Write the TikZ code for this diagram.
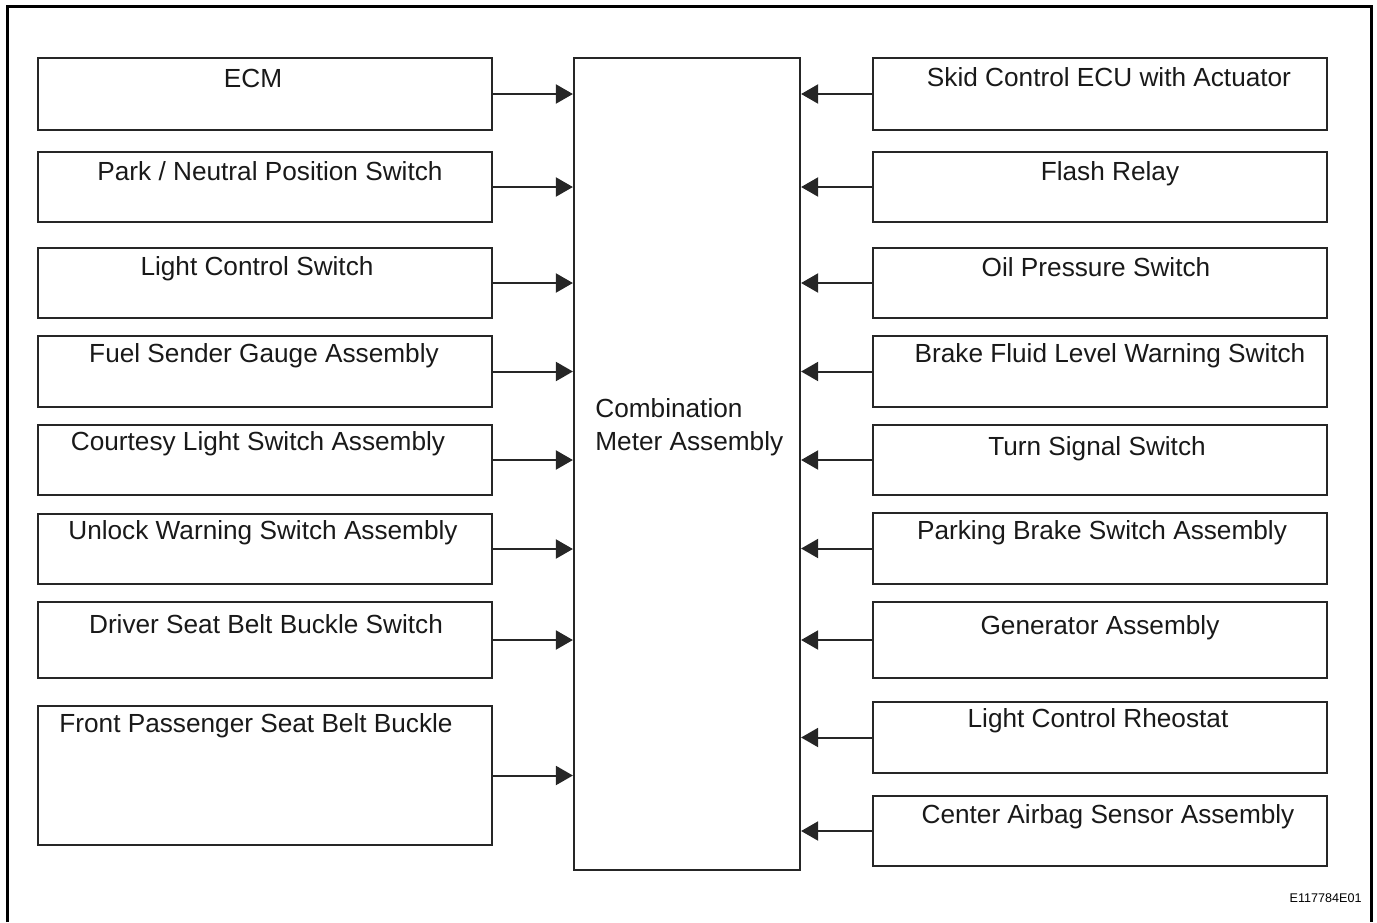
\documentclass[tikz,border=0pt]{standalone}
\usepackage{fontspec}
\setmainfont{Liberation Sans}
\usetikzlibrary{arrows.meta,fit}
\begin{document}
\begin{tikzpicture}[x=0.5pt,y=-0.5pt,
  box/.style={draw=black!85,line width=1.1pt,inner sep=0pt,fill=none},
  lbl/.style={anchor=base,inner sep=0pt,font=\fontsize{13.1}{15}\selectfont,text=black!90},
  arr/.style={draw=black!85,line width=1pt,-{Triangle[length=8.5pt,width=9.5pt]}},
  frame/.style={draw=black,line width=1.5pt}]
\useasboundingbox (0,0) rectangle (1377,922);
\draw[frame] (7,922) -- (7,6) -- (1371,6) -- (1371,922);
% central box
\node[box,fit={(574,58) (800,870)}] (cma) {};
\node[lbl,anchor=base west] (cmat1) at (595,417) {Combination};
\node[lbl,anchor=base west] (cmat2) at (595,450) {Meter Assembly};
% left boxes
\foreach \n/\t/\b/\tx/\ty/\txt in {
  l1/58/130/253/87/{ECM},
  l2/152/222/270/180/{Park / Neutral Position Switch},
  l3/248/318/257/275/{Light Control Switch},
  l4/336/407/264/362/{Fuel Sender Gauge Assembly},
  l5/425/495/258/450/{Courtesy Light Switch Assembly},
  l6/514/584/263/539/{Unlock Warning Switch Assembly},
  l7/602/678/266/633/{Driver Seat Belt Buckle Switch},
  l8/706/845/256/732/{Front Passenger Seat Belt Buckle}}{
  \node[box,fit={(38,\t) (492,\b)}] (\n) {};
  \node[lbl] (\n t) at (\tx,\ty) {\txt};
  \draw[arr] (\n.east) -- (\n.east -| cma.west);
}
% right boxes
\foreach \n/\t/\b/\tx/\ty/\txt in {
  r1/58/130/1109/86/{Skid Control ECU with Actuator},
  r2/152/222/1110/180/{Flash Relay},
  r3/248/318/1096/276/{Oil Pressure Switch},
  r4/336/407/1110/362/{Brake Fluid Level Warning Switch},
  r5/425/495/1097/455/{Turn Signal Switch},
  r6/513/584/1102/539/{Parking Brake Switch Assembly},
  r7/602/678/1100/634/{Generator Assembly},
  r8/702/773/1098/727/{Light Control Rheostat},
  r9/796/866/1108/823/{Center Airbag Sensor Assembly}}{
  \node[box,fit={(873,\t) (1327,\b)}] (\n) {};
  \node[lbl] (\n t) at (\tx,\ty) {\txt};
  \draw[arr] (\n.west) -- (\n.west -| cma.east);
}
\node[anchor=base east,inner sep=0pt,font=\fontsize{6.3}{7}\selectfont] (code) at (1362,902) {E117784E01};
\end{tikzpicture}
\end{document}
